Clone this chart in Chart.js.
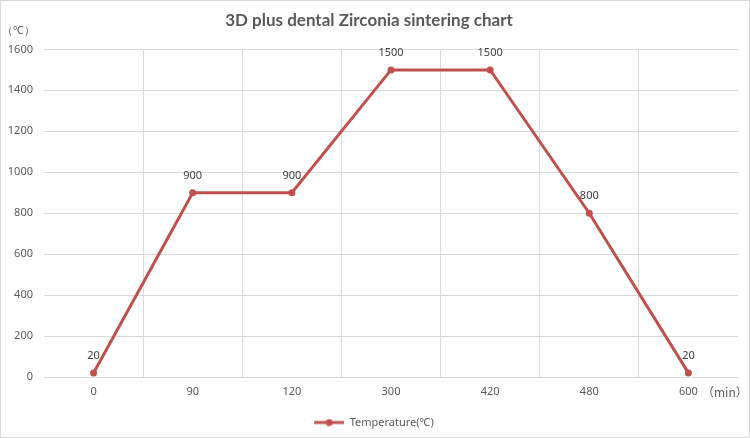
<!DOCTYPE html>
<html>
<head>
<meta charset="utf-8">
<script src="https://cdn.jsdelivr.net/npm/chart.js@4.4.0/dist/chart.umd.min.js"></script>
<style>
  html, body { margin: 0; padding: 0; background: #fff; }
  #wrap { width: 750px; height: 438px; }
</style>
</head>
<body>
<div id="wrap"><canvas id="graph"></canvas></div>
<script>
// sintering program: time (min) vs temperature
var timeLabels = ["0", "90", "120", "300", "420", "480", "600"];
var temperature = [20, 900, 900, 1500, 1500, 800, 20];
var yTicks = [0, 200, 400, 600, 800, 1000, 1200, 1400, 1600];

var lineColor = "#C0504D";
var textColor = "#595959";
var gridColor = "#d9d9d9";
var font = "'Noto Sans', 'Liberation Sans', sans-serif";

// legend marker: short line with a dot (left part left blank on purpose)
var marker = document.createElement("canvas");
marker.width = 40;
marker.height = 8;
var mctx = marker.getContext("2d");
mctx.strokeStyle = lineColor;
mctx.lineWidth = 3;
mctx.beginPath();
mctx.moveTo(10, 4);
mctx.lineTo(40, 4);
mctx.stroke();
mctx.fillStyle = lineColor;
mctx.beginPath();
mctx.arc(25, 4, 3.5, 0, Math.PI * 2);
mctx.fill();

var extras = {
  id: "extras",
  beforeDraw: function(chart) {
    var c = chart.ctx;
    c.save();
    c.fillStyle = "#fff";
    c.fillRect(0, 0, chart.width, chart.height);
    c.strokeStyle = gridColor;
    c.lineWidth = 1;
    c.strokeRect(0.5, 0.5, chart.width - 1, chart.height - 1);
    c.restore();
  },
  afterDatasetsDraw: function(chart) {
    var c = chart.ctx;
    var meta = chart.getDatasetMeta(0);
    c.save();
    c.font = "11px " + font;
    c.fillStyle = "#404040";
    c.textAlign = "center";
    c.textBaseline = "middle";
    meta.data.forEach(function(pt, i) {
      c.fillText(String(temperature[i]), pt.x, pt.y - 17);
    });
    // axis units
    c.fillStyle = textColor;
    c.textAlign = "left";
    c.fillText("（℃）", 2, 31);
    c.font = "12px 'Noto Sans CJK SC', monospace";
    c.fillText("（min）", 702, 392);
    c.restore();
  }
};

chart = new Chart("graph", {
  type: "line",
  data: {
    labels: timeLabels,
    datasets: [{
      label: "Temperature(℃)",
      data: temperature,
      borderColor: lineColor,
      backgroundColor: lineColor,
      borderWidth: 3,
      pointRadius: 3.5,
      pointHoverRadius: 3.5,
      pointBackgroundColor: lineColor,
      pointBorderWidth: 0,
      pointStyle: "circle",
      lineTension: 0,
      fill: false
    }]
  },
  options: {
    responsive: true,
    maintainAspectRatio: false,
    animation: false,
    layout: { padding: { left: 0, right: 12, top: 0, bottom: 0 } },
    plugins: {
      title: {
        display: true,
        text: "3D plus dental Zirconia sintering chart",
        color: textColor,
        font: { family: "Lato, 'Open Sans', sans-serif", size: 17, weight: "bold" },
        padding: { top: 10, bottom: 19 }
      },
      legend: {
        position: "bottom",
        labels: {
          usePointStyle: true,
          pointStyleWidth: 40,
          color: textColor,
          font: { family: font, size: 11 },
          padding: 11,
          generateLabels: function(ch) {
            return [{
              text: "Temperature(℃)",
              pointStyle: marker,
              fontColor: textColor,
              lineWidth: 0,
              strokeStyle: "transparent",
              fillStyle: lineColor,
              datasetIndex: 0
            }];
          }
        }
      },
      tooltip: { enabled: false }
    },
    scales: {
      x: {
        offset: true,
        afterFit: function(s) { s.height = 29; },
        grid: {
          offset: true,
          drawTicks: false,
          color: function(ctx) {
            return (ctx.index > 0 && ctx.index < timeLabels.length) ? gridColor : "transparent";
          }
        },
        border: { display: false },
        ticks: { color: textColor, font: { family: font, size: 11 }, padding: 8, maxRotation: 0 }
      },
      y: {
        min: 0,
        max: 1600,
        afterFit: function(s) { s.width = 44; },
        afterBuildTicks: function(s) { s.ticks = yTicks.map(function(v) { return { value: v }; }); },
        grid: { color: gridColor, drawTicks: false },
        border: { display: false },
        ticks: {
          color: textColor,
          font: { family: font, size: 11 },
          padding: 11,
          callback: function(v) { return String(v); }
        }
      }
    }
  },
  plugins: [extras]
});
</script>
</body>
</html>
